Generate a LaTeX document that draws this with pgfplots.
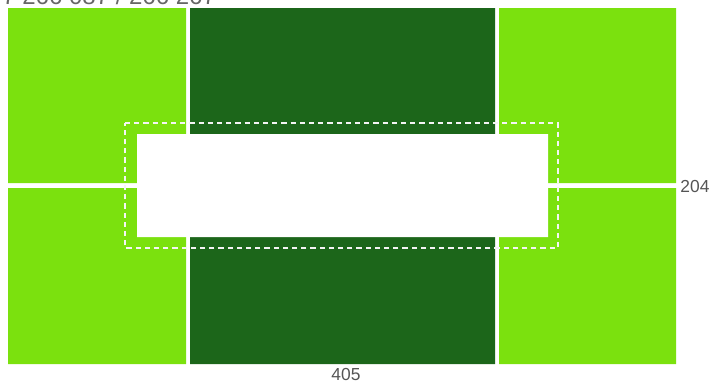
\documentclass[border=0pt]{standalone}
\usepackage{pgfplots}
\pgfplotsset{compat=1.18}
\usepackage{fontspec}
\setmainfont{Liberation Sans}
\definecolor{lgreen}{HTML}{7BE10E}
\definecolor{dgreen}{HTML}{1C661A}
\definecolor{lbl}{HTML}{555555}
\begin{document}
\begin{tikzpicture}
\begin{axis}[
  scale only axis, width=356.5pt, height=192.5pt,
  xmin=0, xmax=713, ymin=0, ymax=385, y dir=reverse,
  axis lines=none, clip=false,
]
% light green blocks
\addplot[fill=lgreen, draw=none] coordinates {(8,8) (186,8) (186,183) (8,183) (8,8)};
\addplot[fill=lgreen, draw=none] coordinates {(8,188) (186,188) (186,364) (8,364) (8,188)};
\addplot[fill=lgreen, draw=none] coordinates {(499,8) (676,8) (676,183) (499,183) (499,8)};
\addplot[fill=lgreen, draw=none] coordinates {(499,188) (676,188) (676,364) (499,364) (499,188)};
% dark green blocks
\addplot[fill=dgreen, draw=none] coordinates {(190,8) (495,8) (495,364) (190,364) (190,8)};
% centre white box
\addplot[fill=white, draw=none] coordinates {(137,134) (548,134) (548,237) (137,237) (137,134)};
% dashed frame
\addplot[draw=white!92!gray, line width=0.7pt, dash pattern=on 2.6pt off 2pt] coordinates {(125,123) (558,123) (558,248) (125,248) (125,123)};
\node[anchor=west, text=lbl, font=\fontsize{8.7}{10}\selectfont, inner sep=0pt] at (axis cs:680,186) {204};
\node[anchor=center, text=lbl, font=\fontsize{8.7}{10}\selectfont, inner sep=0pt] at (axis cs:346,374) {405};
\node[anchor=base west, text=black!60, font=\fontsize{12}{14}\selectfont, inner sep=0pt] at (axis cs:2,4) {7 266 087 / 266 267};
\end{axis}
\pgfresetboundingbox
\path (current axis.south west) rectangle (current axis.north east);
\end{tikzpicture}
\end{document}
